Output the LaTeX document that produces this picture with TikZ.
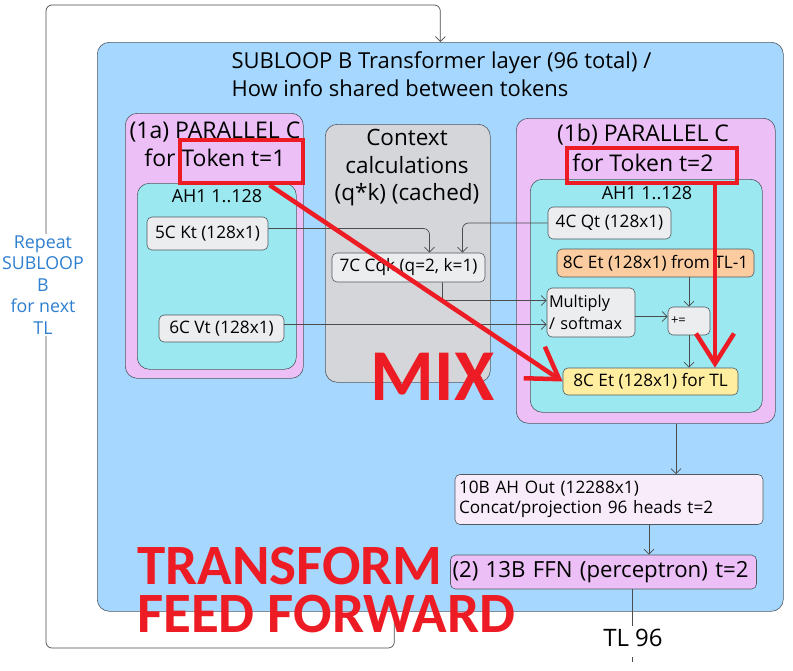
\documentclass[tikz,border=0pt]{standalone}
\usepackage{fontspec}
\setmainfont{Open Sans}
\newfontfamily\bannerfont{Carlito}
\usetikzlibrary{arrows.meta}

\definecolor{layerblue}{RGB}{166,216,255}
\definecolor{parpink}{RGB}{236,192,247}
\definecolor{headcyan}{RGB}{155,232,240}
\definecolor{ctxgray}{RGB}{212,214,218}
\definecolor{vecgray}{RGB}{236,237,239}
\definecolor{etorange}{RGB}{250,204,160}
\definecolor{etyellow}{RGB}{255,238,160}
\definecolor{outpink}{RGB}{248,236,251}
\definecolor{mixred}{RGB}{237,28,36}
\definecolor{loopblue}{RGB}{46,127,208}
\definecolor{edge}{RGB}{80,88,96}

\tikzset{
  frame/.style={draw=edge,line width=.6pt,rounded corners=12pt,anchor=north west,inner sep=0pt},
  vecbox/.style={draw=edge,line width=.6pt,rounded corners=5pt,fill=vecgray,inner sep=0pt,font=\fontsize{17.2}{19}\selectfont},
  flow/.style={draw=black!70,line width=.7pt,-{Straight Barb[length=5pt,width=10pt]}},
  wire/.style={draw=black!70,line width=.7pt},
  redbox/.style={draw=mixred,line width=4pt,inner sep=0pt},
  redarrow/.style={draw=mixred,line width=4.5pt,-{Straight Barb[length=30pt,width=38pt]}},
  banner/.style={text=mixred,inner sep=0pt,anchor=north west,font=\bannerfont\bfseries\fontsize{57}{57}\selectfont}
}

\begin{document}
\begin{tikzpicture}[x=1pt,y=-1pt]
\useasboundingbox[fill=white] (0,0) rectangle (793,670);

\node[frame,fill=layerblue,minimum width=686pt,minimum height=569pt] (layer) at (97,42) {};
\node[frame,fill=parpink,minimum width=178pt,minimum height=265pt] (para) at (125,113) {};
\node[frame,fill=headcyan,minimum width=159pt,minimum height=186pt] (heada) at (137,183) {};
\node[frame,fill=ctxgray,minimum width=165pt,minimum height=258pt] (ctx) at (325,124) {};
\node[frame,fill=parpink,minimum width=259pt,minimum height=305pt] (parb) at (516,118) {};
\node[frame,fill=headcyan,minimum width=232pt,minimum height=233pt] (headb) at (530,179) {};

\node[font=\fontsize{22}{28}\selectfont,align=left,anchor=west] (title) at (228,74) {SUBLOOP B Transformer layer (96 total) /\\How info shared between tokens};
\node[font=\fontsize{23}{28}\selectfont,align=center] (paratitle) at (215,144) {(1a) PARALLEL C\\for Token t=1};
\node[font=\fontsize{22.5}{27.5}\selectfont,align=center] (ctxtitle) at (407,168) {Context\\calculations\\(q*k) (cached)};
\node[font=\fontsize{23}{30}\selectfont,align=center] (parbtitle) at (643,148) {(1b) PARALLEL C\\for Token t=2};
\node[font=\fontsize{18}{20}\selectfont] (aha) at (217,196) {AH1 1..128};
\node[font=\fontsize{18}{20}\selectfont] (ahb) at (647,193) {AH1 1..128};

\node[vecbox,minimum width=121pt,minimum height=33pt] (kt) at (207.5,233.5) {5C Kt (128x1)};
\node[vecbox,minimum width=125pt,minimum height=27pt] (vt) at (221.5,328.5) {6C Vt (128x1)};
\node[vecbox,minimum width=153pt,minimum height=29pt] (cqk) at (408.5,267.5) {7C Cqk (q=2, k=1)};
\node[vecbox,minimum width=123pt,minimum height=32pt] (qt) at (609.5,223) {4C Qt (128x1)};
\node[vecbox,fill=etorange,minimum width=197pt,minimum height=28pt] (etprev) at (655.5,263) {8C Et (128x1) from TL-1};
\node[vecbox,minimum width=88pt,minimum height=49pt,text width=84pt,align=left,font=\fontsize{16.3}{22}\selectfont] (mult) at (591,312.5) {Multiply\\/ softmax};
\node[vecbox,minimum width=42pt,minimum height=28pt,text width=36pt,align=left,font=\fontsize{13}{14}\selectfont] (plus) at (689,321) {+=};
\node[vecbox,fill=etyellow,minimum width=175pt,minimum height=27pt] (etnow) at (650.5,381.5) {8C Et (128x1) for TL};
\node[vecbox,fill=outpink,minimum width=308pt,minimum height=50pt,text width=300pt,align=left,font=\fontsize{17.2}{20.5}\selectfont] (ahout) at (609,499.5) {10B AH Out (12288x1)\\Concat/projection 96 heads t=2};
\node[vecbox,fill=parpink,minimum width=306pt,minimum height=34pt,text width=302pt,align=left,font=\fontsize{22.2}{26}\selectfont] (ffn) at (603.5,572) {(2) 13B FFN (perceptron) t=2};
\node[font=\fontsize{24}{26}\selectfont] (tl) at (633,638) {TL 96};

\draw[flow,rounded corners=6pt] ([yshift=5pt]kt.east) -| ([xshift=21pt]cqk.north);
\draw[flow,rounded corners=6pt] (qt.west) -| ([xshift=54pt]cqk.north);
\draw[flow,rounded corners=2pt] ([xshift=34pt]cqk.south) |- ([yshift=12pt]mult.west);
\draw[flow] ([yshift=4pt]vt.east) -- ([yshift=4pt]vt.east -| mult.west);
\draw[flow] ([yshift=-4pt]mult.east) -- ([yshift=-4pt]mult.east -| plus.west);
\draw[flow] (plus.north |- etprev.south) -- (plus.north);
\draw[flow] (plus.south) -- (plus.south |- etnow.north);
\draw[flow] ([xshift=67pt]ahout.north |- parb.south) -- ([xshift=67pt]ahout.north);
\draw[flow] ([xshift=40pt]ahout.south) -- ([xshift=40pt]ahout.south |- ffn.north);
\draw[wire] ([xshift=28.5pt]ffn.south) -- ([xshift=28.5pt]ffn.south |- tl.north);
\coordinate (tick) at (632,657);
\draw[wire] (tick) -- ++(0,5);

\coordinate (loopleft) at (46,648);
\coordinate (looptop) at (46,5);
\draw[flow,rounded corners=6pt] ([xshift=-46pt]layer.south) |- (loopleft) -- (looptop) -| (layer.north);
\node[text=loopblue,fill=white,align=center,font=\fontsize{17.8}{21.5}\selectfont,inner sep=2pt] (repeat) at (43,285) {Repeat\\SUBLOOP\\B\\for next\\TL};

\node[redbox,minimum width=123pt,minimum height=43pt] (tokone) at (241.5,161.5) {};
\node[redbox,minimum width=170pt,minimum height=35pt] (toktwo) at (652,165.5) {};
\draw[redarrow] ([xshift=28pt]tokone.south) -- (etnow.west);
\draw[redarrow] ([xshift=63pt]toktwo.south) -- ([xshift=63pt]toktwo.south |- etnow.north);

\node[banner,anchor=center,font=\bannerfont\bfseries\fontsize{73}{73}\selectfont] (mix) at (432.5,376.5) {MIX};
\node[banner] (transform) at (137,547) {TRANSFORM};
\node[banner] (feedfwd) at (137,595) {FEED FORWARD};

\end{tikzpicture}
\end{document}
